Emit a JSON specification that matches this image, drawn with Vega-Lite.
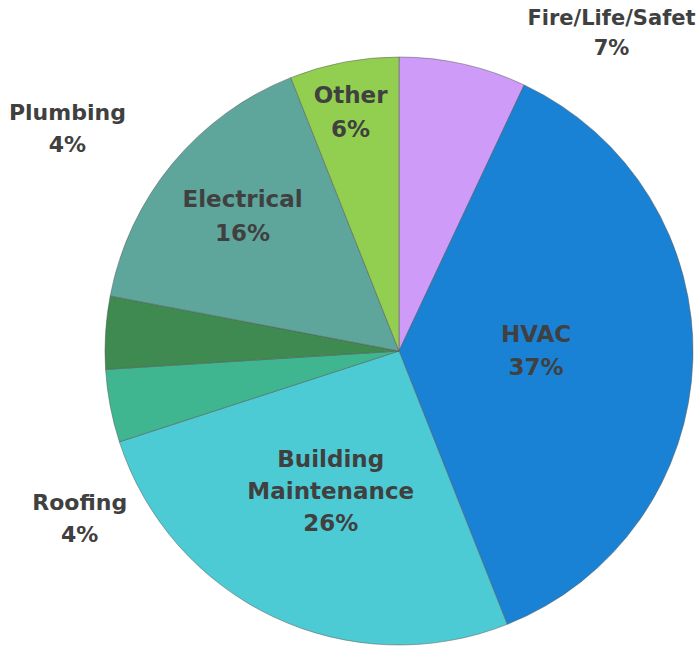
{
  "$schema": "https://vega.github.io/schema/vega-lite/v6.json",
  "width": 596,
  "height": 590,
  "autosize": "none",
  "padding": {"left": 101, "top": 56, "right": 0, "bottom": 0},
  "background": "white",
  "config": {"view": {"stroke": null}},
  "data": {"values": [
    {"i": 1, "cat": "Fire/Life/Safety", "value": 7, "label": ["Fire/Life/Safet", "7%"]},
    {"i": 2, "cat": "HVAC", "value": 37, "label": ["HVAC", "37%"]},
    {"i": 3, "cat": "Building Maintenance", "value": 26, "label": ["Building", "Maintenance", "26%"]},
    {"i": 4, "cat": "Roofing", "value": 4, "label": ["Roofing", "4%"]},
    {"i": 5, "cat": "Plumbing", "value": 4, "label": ["Plumbing", "4%"]},
    {"i": 6, "cat": "Electrical", "value": 16, "label": ["Electrical", "16%"]},
    {"i": 7, "cat": "Other", "value": 6, "label": ["Other", "6%"]}
  ]},
  "encoding": {
    "theta": {"field": "value", "type": "quantitative", "stack": true, "scale": {"domain": [0, 100]}},
    "order": {"field": "i", "type": "quantitative"}
  },
  "layer": [
    {
      "mark": {"type": "arc", "outerRadius": 294, "stroke": "#555555", "strokeWidth": 0.7, "strokeOpacity": 0.7},
      "encoding": {
        "color": {
          "field": "cat", "type": "nominal", "legend": null,
          "scale": {
            "domain": ["Fire/Life/Safety", "HVAC", "Building Maintenance", "Roofing", "Plumbing", "Electrical", "Other"],
            "range": ["#CF9BF9", "#1A82D4", "#4DCBD4", "#3FB68F", "#3E8A50", "#5EA69C", "#92CF50"]
          }
        }
      }
    },
    {
      "mark": {"type": "text", "font": "DejaVu Sans", "fontWeight": "bold", "fontSize": 23, "lineHeight": 33, "color": "#404040", "align": "center", "baseline": "middle", "thetaOffset": -0.03, "dy": -16},
      "encoding": {"radius": {"value": 137}, "text": {"condition": {"test": "datum.cat === 'HVAC'", "field": "label"}, "value": ""}}
    },
    {
      "mark": {"type": "text", "font": "DejaVu Sans", "fontWeight": "bold", "fontSize": 23, "lineHeight": 32, "color": "#404040", "align": "center", "baseline": "middle", "thetaOffset": 0.01, "dy": -32},
      "encoding": {"radius": {"value": 157}, "text": {"condition": {"test": "datum.cat === 'Building Maintenance'", "field": "label"}, "value": ""}}
    },
    {
      "mark": {"type": "text", "font": "DejaVu Sans", "fontWeight": "bold", "fontSize": 23, "lineHeight": 34, "color": "#404040", "align": "center", "baseline": "middle", "thetaOffset": 0.017, "dy": -17},
      "encoding": {"radius": {"value": 206}, "text": {"condition": {"test": "datum.cat === 'Electrical'", "field": "label"}, "value": ""}}
    },
    {
      "mark": {"type": "text", "font": "DejaVu Sans", "fontWeight": "bold", "fontSize": 23, "lineHeight": 34, "color": "#404040", "align": "center", "baseline": "middle", "thetaOffset": -0.012, "dy": -17},
      "encoding": {"radius": {"value": 243}, "text": {"condition": {"test": "datum.cat === 'Other'", "field": "label"}, "value": ""}}
    },
    {
      "mark": {"type": "text", "font": "DejaVu Sans", "fontWeight": "bold", "fontSize": 21, "lineHeight": 30, "color": "#404040", "align": "center", "baseline": "middle", "thetaOffset": 0.37, "dy": -15},
      "encoding": {"radius": {"value": 382}, "text": {"condition": {"test": "datum.cat === 'Fire/Life/Safety'", "field": "label"}, "value": ""}}
    },
    {
      "mark": {"type": "text", "font": "DejaVu Sans", "fontWeight": "bold", "fontSize": 22, "lineHeight": 32, "color": "#404040", "align": "center", "baseline": "middle", "thetaOffset": 0.527, "dy": -16},
      "encoding": {"radius": {"value": 399}, "text": {"condition": {"test": "datum.cat === 'Plumbing'", "field": "label"}, "value": ""}}
    },
    {
      "mark": {"type": "text", "font": "DejaVu Sans", "fontWeight": "bold", "fontSize": 22, "lineHeight": 32, "color": "#404040", "align": "center", "baseline": "middle", "thetaOffset": -0.297, "dy": -16},
      "encoding": {"radius": {"value": 361}, "text": {"condition": {"test": "datum.cat === 'Roofing'", "field": "label"}, "value": ""}}
    }
  ]
}
